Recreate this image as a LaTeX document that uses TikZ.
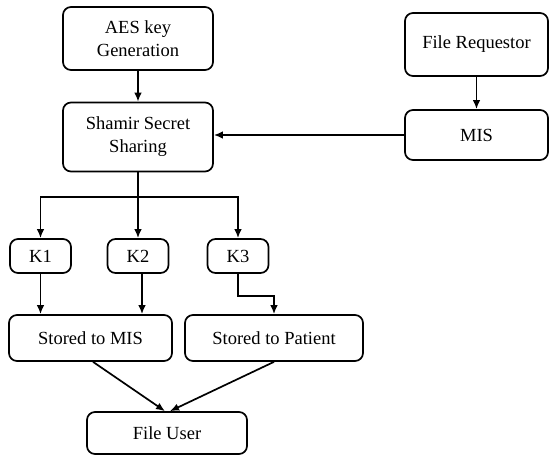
\documentclass[tikz,border=0pt]{standalone}
\usepackage{fontspec}
\setmainfont{Liberation Serif}
\usetikzlibrary{arrows.meta}
\usetikzlibrary{calc}

\begin{document}
\begin{tikzpicture}[x=1pt, y=-1pt, line width=1.7pt,
    >={Latex[length=9pt,width=7.5pt]},
    box/.style={draw, rounded corners=8pt, inner sep=0pt, align=center,
      font=\fontsize{18.5}{23}\selectfont}]
      \useasboundingbox (0,0) rectangle (549,455);

      % key generation and splitting
      \node[box, minimum width=150pt, minimum height=63pt] (aes) at (138,38.5) {AES key\\Generation};
      \node[box, minimum width=150pt, minimum height=69pt] (shamir) at (138,137) {Shamir Secret\\Sharing};

      % request side
      \node[box, minimum width=143pt, minimum height=63pt] (req) at (476.5,44.5) {File Requestor};
      \node[box, minimum width=143pt, minimum height=50pt] (mis) at (476.5,135) {MIS};

      % the three shares
      \node[box, minimum width=61pt, minimum height=34pt] (k1) at (40.5,256) {K1};
      \node[box, minimum width=61pt, minimum height=34pt] (k2) at (138,256) {K2};
      \node[box, minimum width=61pt, minimum height=34pt] (k3) at (238,256) {K3};

      % storage and user
      \node[box, minimum width=163pt, minimum height=46pt] (smis) at (90.5,338) {Stored to MIS};
      \node[box, minimum width=178pt, minimum height=46pt] (spat) at (274,338) {Stored to Patient};
      \node[box, minimum width=160pt, minimum height=42pt] (user) at (167,433) {File User};

      \coordinate (split) at (138,197);

      \draw[->] (aes.south) -- (shamir.north);
      \draw[->] (req.south) -- (mis.north);
      \draw[->] (mis.west) -- (mis.west -| shamir.east);

      \draw (shamir) -- (split);
      \draw[->] (split) -| (k1);
      \draw[->] (split) -- (k2);
      \draw[->] (split) -| (k3);

      \draw[->] (k1.south) -- (k1 |- smis.north);
      \draw[->] ([xshift=4pt]k2.south) -- ([xshift=4pt]k2.south |- smis.north);
      \draw[->] (k3.south) -- ++(0,22) -| (spat.north);

      \draw[->] ([xshift=2.5pt]smis.south) -- ([xshift=-2pt]user.north);
      \draw[->] (spat.south) -- ([xshift=3pt]user.north);
    \end{tikzpicture}
\end{document}
